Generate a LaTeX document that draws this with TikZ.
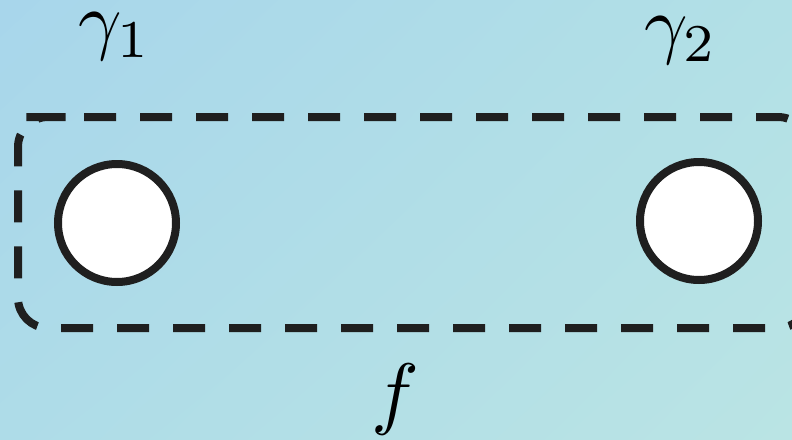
\documentclass[tikz,border=0pt]{standalone}
\usetikzlibrary{shadings}
\definecolor{bgA}{RGB}{168,214,235}
\definecolor{bgB}{RGB}{178,224,230}
\definecolor{bgC}{RGB}{174,220,232}
\definecolor{bgD}{RGB}{186,228,228}
\begin{document}
\begin{tikzpicture}[x=1pt,y=-1pt,
  hole/.style={circle,draw=black!88,line width=8pt,fill=white,minimum size=118pt,inner sep=0pt},
  region/.style={draw=black!88,line width=8pt,dash pattern=on 32pt off 24pt,dash phase=50pt,rounded corners=30pt},
  lbl/.style={inner sep=0pt,scale=7.6}]
\useasboundingbox (0,0) rectangle (792,439);
\shade[upper left=bgA,upper right=bgB,lower left=bgC,lower right=bgD]
  (0,0) rectangle (792,439);
\draw[region] (48,117) -- (808,117) -- (808,328) -- (18,328) -- (18,117) -- cycle;
\node[hole] (g1) at (117,223) {};
\node[hole] (g2) at (699,221) {};
\node[lbl] (l1) at (115,37) {$\gamma_1$};
\node[lbl] (l2) at (681,41) {$\gamma_2$};
\node[lbl,scale=8/7.6] (lf) at (395,399) {$f$};
\end{tikzpicture}
\end{document}
